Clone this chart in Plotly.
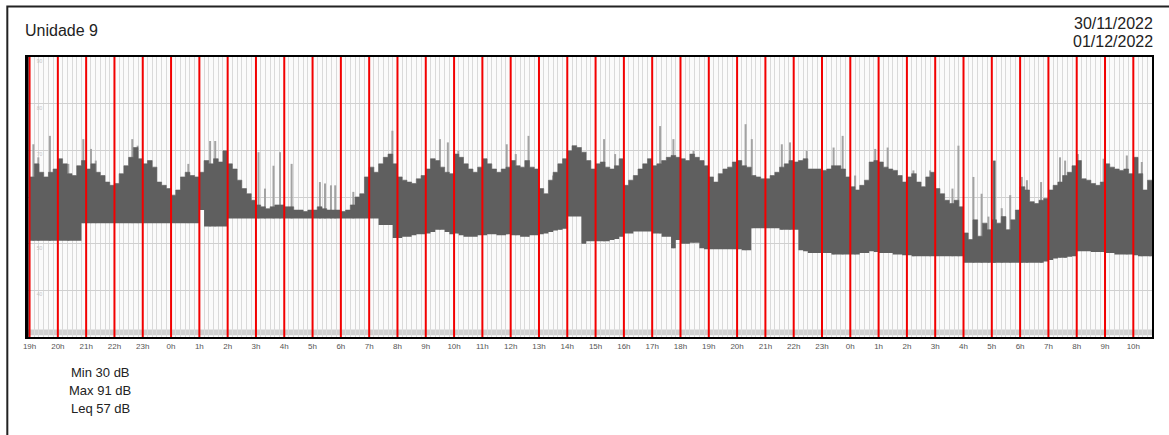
import plotly.graph_objects as go

# ---------------------------------------------------------------
# Sound level record, "Unidade 9", 30/11/2022 19h -> 01/12/2022 10h
# Time axis in hours counted from 19h; one sample every 10 minutes.
# ---------------------------------------------------------------
STEP_H = 1 / 6  # 10-minute sampling interval, in hours

hour_labels = ["19h", "20h", "21h", "22h", "23h", "0h", "1h", "2h", "3h", "4h",
               "5h", "6h", "7h", "8h", "9h", "10h", "11h", "12h", "13h", "14h",
               "15h", "16h", "17h", "18h", "19h", "20h", "21h", "22h", "23h", "0h",
               "1h", "2h", "3h", "4h", "5h", "6h", "7h", "8h", "9h", "10h"]

# upper edge of the dense level band (dB), per 10-minute interval
level_upper = [
    64.3, 67.1, 65.3, 64.3, 65.3, 66.0, 68.2, 67.1, 65.0, 64.6, 66.7, 67.8,
    66.0, 67.1, 65.3, 64.6, 63.2, 62.5, 62.9, 65.0, 66.7, 68.5, 70.6, 68.2,
    67.1, 67.8, 66.4, 63.2, 62.5, 61.8, 60.4, 61.5, 64.3, 65.3, 64.6, 64.3,
    65.3, 67.8, 67.1, 68.2, 67.5, 69.9, 67.1, 66.0, 63.6, 61.8, 60.7, 59.3,
    58.3, 57.9, 57.5, 57.9, 58.3, 58.3, 57.9, 57.9, 57.2, 57.2, 56.9, 57.2,
    57.2, 57.9, 57.5, 57.2, 57.2, 57.2, 56.9, 57.2, 58.3, 60.0, 60.7, 64.3,
    66.4, 65.3, 67.1, 68.5, 69.2, 67.1, 64.3, 63.6, 63.2, 62.9, 63.9, 64.6,
    66.0, 68.2, 67.8, 66.4, 65.3, 65.0, 69.2, 68.5, 67.1, 66.0, 65.3, 66.4,
    68.2, 67.1, 66.0, 65.3, 66.0, 66.4, 67.8, 66.7, 66.4, 67.8, 66.4, 66.0,
    61.8, 60.7, 63.6, 65.3, 67.1, 68.2, 69.9, 71.0, 70.6, 69.6, 67.8, 66.0,
    67.1, 67.5, 66.4, 66.0, 66.7, 68.2, 62.5, 63.6, 64.6, 66.0, 67.1, 68.2,
    66.7, 67.1, 67.8, 68.5, 68.9, 68.5, 68.2, 67.8, 69.2, 68.5, 67.8, 66.7,
    64.3, 63.2, 65.0, 66.0, 66.4, 67.5, 67.8, 66.7, 66.4, 64.6, 64.3, 63.9,
    63.9, 64.6, 65.3, 66.4, 67.1, 67.8, 67.5, 67.8, 68.2, 66.0, 66.0, 66.0,
    65.7, 66.0, 66.7, 66.7, 66.0, 64.3, 62.2, 61.5, 62.5, 63.6, 67.5, 67.8,
    67.5, 66.4, 66.0, 65.7, 64.6, 63.2, 64.3, 65.0, 63.2, 62.2, 64.3, 65.3,
    61.8, 60.7, 59.3, 58.6, 59.3, 57.9, 52.3, 50.9, 55.1, 51.6, 54.4, 53.0,
    55.1, 54.4, 55.8, 53.0, 55.1, 57.2, 62.2, 61.5, 59.0, 58.6, 59.3, 59.7,
    61.5, 62.5, 63.2, 64.6, 65.3, 66.7, 67.8, 63.9, 63.6, 62.9, 62.5, 63.2,
    67.1, 66.4, 66.0, 65.7, 66.0, 65.0, 68.5, 65.0, 61.5, 63.6,
]

# lower edge of the level band (dB), per 10-minute interval
level_lower = [
    50.6, 50.6, 50.6, 50.6, 50.6, 50.6, 50.6, 50.6, 50.6, 50.6, 50.6, 54.4,
    54.4, 54.4, 54.4, 54.4, 54.4, 54.4, 54.4, 54.4, 54.4, 54.4, 54.4, 54.4,
    54.4, 54.4, 54.4, 54.4, 54.4, 54.4, 54.4, 54.4, 54.4, 54.4, 54.4, 54.4,
    57.2, 53.7, 53.7, 53.7, 53.7, 53.7, 55.4, 55.4, 55.4, 55.4, 55.4, 55.4,
    55.4, 55.4, 55.4, 55.4, 55.4, 55.4, 55.4, 55.4, 55.4, 55.4, 55.4, 55.4,
    55.4, 55.4, 55.4, 55.4, 55.4, 55.4, 55.4, 55.4, 55.4, 55.4, 55.4, 55.4,
    55.4, 55.4, 54.0, 54.0, 54.0, 51.2, 51.2, 51.5, 51.5, 51.8, 52.0, 52.0,
    52.2, 52.5, 53.0, 53.0, 52.5, 52.0, 52.2, 51.8, 51.5, 51.5, 51.5, 51.8,
    51.8, 52.0, 52.0, 51.8, 51.8, 52.0, 51.8, 51.8, 51.5, 51.5, 51.8, 51.8,
    52.0, 52.2, 52.5, 52.8, 53.0, 53.2, 55.8, 55.8, 55.8, 50.0, 50.5, 50.5,
    50.5, 50.5, 50.5, 50.8, 51.0, 51.5, 52.2, 52.2, 52.6, 52.6, 52.6, 52.6,
    52.2, 52.2, 51.5, 51.5, 49.0, 50.8, 50.0, 50.0, 50.2, 50.2, 49.0, 48.8,
    48.8, 48.8, 48.8, 48.8, 48.8, 48.8, 48.8, 48.6, 48.6, 53.3, 53.3, 53.3,
    53.3, 53.3, 53.3, 53.0, 53.0, 53.0, 53.0, 48.6, 48.4, 48.0, 48.0, 48.0,
    48.0, 48.0, 47.7, 47.7, 47.7, 47.7, 47.7, 47.7, 48.0, 48.0, 48.4, 48.2,
    48.0, 48.0, 48.0, 47.7, 47.7, 47.5, 47.5, 47.3, 47.3, 47.3, 47.3, 47.3,
    47.3, 47.3, 47.3, 47.3, 47.3, 47.3, 45.9, 45.9, 45.9, 45.9, 45.9, 45.9,
    45.9, 45.9, 45.9, 45.9, 45.9, 45.9, 45.9, 45.9, 45.9, 45.9, 45.9, 46.2,
    46.5, 46.8, 47.0, 47.0, 47.2, 47.3, 48.4, 48.4, 48.4, 48.2, 48.2, 48.2,
    48.0, 48.0, 47.7, 47.7, 47.7, 47.7, 47.5, 47.3, 47.3, 47.3,
]

# short peaks rising above the band: time (h from 19h) and level (dB)
peak_time = [0.135, 0.31, 0.72, 1.37, 1.9, 2.17, 2.34, 3.63, 3.82, 5.61, 6.38, 6.56,
             8.09, 8.32, 8.62, 8.85, 9.26, 10.26, 10.44, 10.65, 10.8, 11.44, 12.82,
             14.5, 14.78, 15.15, 16.86, 17.18, 17.63, 18.5, 18.75, 20.3, 20.69,
             22.28, 22.75, 23.46, 25.3, 25.52, 26.58, 26.87, 27.46, 28.41, 28.73,
             29.17, 29.88, 30.32, 31.23, 31.82, 32.61, 32.82, 33.35, 33.64, 33.88,
             34.35, 34.65, 35.06, 35.24, 35.74, 36.41, 36.59, 37.04, 37.95, 38.77,
             39.3, 39.59]
peak_level = [71.3, 68.5, 73.1, 67.1, 72.4, 70.3, 67.8, 72.4, 71.0, 67.1, 72.0, 72.0,
              69.6, 61.8, 66.7, 69.6, 67.1, 63.2, 62.9, 62.5, 62.5, 61.1, 74.2,
              72.4, 71.7, 69.9, 71.3, 69.2, 73.1, 64.6, 65.7, 72.4, 69.2,
              75.2, 72.4, 69.9, 75.6, 72.4, 71.3, 71.7, 69.9, 70.6, 73.1,
              64.6, 70.3, 70.6, 65.7, 65.7, 61.8, 71.0, 64.3, 60.7, 55.8,
              57.6, 60.4, 64.3, 63.6, 63.2, 68.5, 67.8, 69.2, 68.2, 68.9,
              67.5, 63.2]

# short dense bursts inside the quiet early-morning stretch
burst_time = [34.09]
burst_level = [67.8]

summary = ["Min 30 dB", "Max 91 dB", "Leq 57 dB"]
y_grid_values = [90, 80, 70, 60, 50, 40]

X_RANGE = [-0.09, 39.66]
Y_RANGE = [30, 90]
FONT = "Liberation Sans, Arial, sans-serif"
BAND = "#5f5f5f"
PEAK = "#a3a3a3"

n = len(level_upper)
t_edges = [i * STEP_H for i in range(n + 1)]

fig = go.Figure()

# faint level labels sitting just under the horizontal grid lines
fig.add_trace(go.Scatter(
    x=[0.35] * len(y_grid_values), y=[v - 1.0 for v in y_grid_values],
    mode="text", text=[str(v) for v in y_grid_values],
    textfont=dict(size=5, color="#c4c4c4", family=FONT),
    hoverinfo="skip", showlegend=False))

# peak whiskers, drawn from the band floor so the band covers their base
px, py = [], []
for t, v in zip(peak_time, peak_level):
    base = level_lower[min(int(t / STEP_H), n - 1)]
    px += [t, t, None]
    py += [base, v, None]
fig.add_trace(go.Scatter(x=px, y=py, mode="lines",
                         line=dict(color=PEAK, width=2),
                         hoverinfo="skip", showlegend=False))

# dense level band between the lower and upper envelopes
fig.add_trace(go.Scatter(x=t_edges, y=level_lower + [level_lower[-1]],
                         mode="lines", line=dict(width=0, shape="hv", color=BAND),
                         hoverinfo="skip", showlegend=False))
fig.add_trace(go.Scatter(x=t_edges, y=level_upper + [level_upper[-1]],
                         mode="lines", line=dict(width=0.6, shape="hv", color=BAND),
                         fill="tonexty", fillcolor=BAND,
                         hoverinfo="skip", showlegend=False))

bx, by = [], []
for t, v in zip(burst_time, burst_level):
    base = level_lower[min(int(t / STEP_H), n - 1)]
    bx += [t, t, None]
    by += [base, v, None]
fig.add_trace(go.Scatter(x=bx, y=by, mode="lines",
                         line=dict(color=BAND, width=2.5),
                         hoverinfo="skip", showlegend=False))

# red hour markers across the full height
rx, ry = [], []
for h in range(len(hour_labels)):
    rx += [h, h, None]
    ry += [Y_RANGE[0], Y_RANGE[1], None]
fig.add_trace(go.Scatter(x=rx, y=ry, mode="lines",
                         line=dict(color="#f20000", width=2),
                         hoverinfo="skip", showlegend=False))

# grey strip along the floor of the plot
fig.add_shape(type="rect", xref="x", yref="y", x0=X_RANGE[0], x1=X_RANGE[1],
              y0=30.4, y1=31.6, fillcolor="#cfcfcf", line_width=0, layer="below")

# thick left edge of the plot frame
fig.add_shape(type="line", xref="paper", yref="paper", x0=0, x1=0, y0=0, y1=1,
              line=dict(color="black", width=3))

# outer page frame
fig.add_shape(type="rect", xref="paper", yref="paper",
              x0=-0.0175, x1=1.03, y0=-0.4, y1=1.18,
              line=dict(color="#222222", width=2), fillcolor="rgba(0,0,0,0)")

fig.add_annotation(xref="paper", yref="paper", x=-0.0035, y=1.093,
                   text="Unidade 9", showarrow=False, xanchor="left", yanchor="middle",
                   font=dict(size=16, color="#222", family=FONT))
fig.add_annotation(xref="paper", yref="paper", x=1.0027, y=1.121,
                   text="30/11/2022", showarrow=False, xanchor="right", yanchor="middle",
                   font=dict(size=16, color="#222", family=FONT))
fig.add_annotation(xref="paper", yref="paper", x=1.0027, y=1.054,
                   text="01/12/2022", showarrow=False, xanchor="right", yanchor="middle",
                   font=dict(size=16, color="#222", family=FONT))
for k, line in enumerate(summary):
    fig.add_annotation(xref="paper", yref="paper", x=0.065, y=-0.125 - 0.066 * k,
                       text=line, showarrow=False, xanchor="center", yanchor="middle",
                       font=dict(size=13, color="#222", family=FONT))

fig.update_layout(
    width=1169, height=435,
    margin=dict(l=27, r=17, t=57, b=98),
    paper_bgcolor="white", plot_bgcolor="#fbfbfb",
    showlegend=False,
    font=dict(family=FONT),
    xaxis=dict(range=X_RANGE, tickmode="array",
               tickvals=list(range(len(hour_labels))), ticktext=hour_labels,
               tickfont=dict(size=8, color="#555"), ticks="",
               showgrid=False, zeroline=False,
               showline=True, linecolor="black", linewidth=2, mirror=True,
               minor=dict(tickmode="linear", tick0=0, dtick=STEP_H,
                          showgrid=True, gridcolor="#dadada", gridwidth=1, ticks="")),
    yaxis=dict(range=Y_RANGE, tickmode="array", tickvals=y_grid_values[1:],
               showticklabels=False, ticks="",
               showgrid=True, gridcolor="#d0d0d0", gridwidth=1, zeroline=False,
               showline=True, linecolor="black", linewidth=2, mirror=True),
)

fig.write_html("out.html")
